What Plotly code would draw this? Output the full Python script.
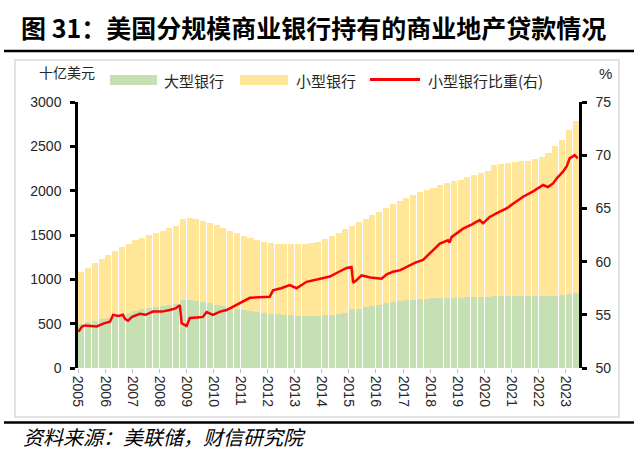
import plotly.graph_objects as go
import pandas as pd

# ---------------- data ----------------
quarters = [str(p) for p in pd.period_range("2005Q1", "2023Q2", freq="Q")]

# 大型银行 (bn USD), quarterly
large_banks = [
    495, 515, 535, 550,
    565, 585, 605, 625,
    645, 660, 675, 690,
    700, 710, 720, 770,
    770, 760, 745, 730,
    715, 700, 685, 670,
    655, 640, 630, 620,
    610, 605, 600, 595,
    592, 590, 590, 592,
    598, 603, 610, 620,
    660, 670, 685, 700,
    715, 730, 745, 755,
    765, 772, 778, 782,
    786, 790, 792, 794,
    795, 796, 797, 798,
    800, 812, 815, 815,
    812, 810, 808, 808,
    808, 810, 815, 825,
    840, 850,
]

# 小型银行 (bn USD), quarterly
small_banks = [
    585, 615, 645, 675,
    705, 730, 755, 775,
    795, 810, 825, 835,
    850, 865, 880, 915,
    925, 920, 915, 910,
    895, 880, 865, 850,
    835, 825, 810, 800,
    795, 795, 798, 803,
    806, 810, 815, 828,
    857, 887, 915, 945,
    945, 975, 1000, 1025,
    1050, 1075, 1100, 1125,
    1150, 1178, 1202, 1228,
    1249, 1270, 1293, 1311,
    1330, 1354, 1378, 1402,
    1425, 1473, 1485, 1495,
    1508, 1520, 1532, 1547,
    1572, 1620, 1685, 1745,
    1840, 1940,
]

# 小型银行比重 (%), right axis
ratio_dates = [
    "2005-01-05", "2005-02-25", "2005-04-05", "2005-07-01", "2005-09-10", "2005-12-15",
    "2006-03-08", "2006-04-20", "2006-07-01", "2006-08-28", "2006-10-01", "2006-11-06",
    "2007-01-01", "2007-04-16", "2007-07-01", "2007-10-08", "2008-02-06", "2008-05-22",
    "2008-08-07", "2008-10-05", "2008-10-30", "2009-01-04", "2009-02-17", "2009-05-27",
    "2009-08-11", "2009-10-01", "2009-12-24", "2010-04-01", "2010-06-28", "2010-10-01",
    "2010-12-24", "2011-05-08", "2011-09-13", "2012-01-30", "2012-03-14", "2012-07-01",
    "2012-10-27", "2013-01-26", "2013-06-10", "2013-11-25", "2014-04-20", "2014-08-08",
    "2014-12-02", "2015-02-06", "2015-02-28", "2015-04-20", "2015-06-21", "2015-10-20",
    "2016-03-17", "2016-05-26", "2016-08-19", "2016-11-25", "2017-02-17", "2017-06-14",
    "2017-09-27", "2018-01-19", "2018-05-12", "2018-08-29", "2018-09-20", "2018-10-16",
    "2019-03-21", "2019-07-19", "2019-10-30", "2019-12-16", "2020-03-14", "2020-07-01",
    "2020-10-27", "2021-02-06", "2021-06-07", "2021-10-20", "2022-03-04", "2022-05-08",
    "2022-07-16", "2022-09-13", "2022-11-28", "2023-01-19", "2023-02-24", "2023-05-04",
    "2023-06-13",
]
ratio_values = [
    53.4, 53.9, 54.0, 53.95, 53.9, 54.2,
    54.35, 55.0, 54.9, 55.0, 54.6, 54.45,
    54.8, 55.1, 55.0, 55.3, 55.3, 55.45,
    55.6, 55.9, 54.2, 53.95, 54.7, 54.75,
    54.8, 55.25, 55.0, 55.3, 55.45, 55.8,
    56.1, 56.6, 56.65, 56.7, 57.3, 57.5,
    57.8, 57.5, 58.1, 58.4, 58.6, 59.0,
    59.4, 59.5, 58.0, 58.3, 58.7, 58.5,
    58.4, 58.8, 59.05, 59.2, 59.5, 59.9,
    60.15, 60.9, 61.7, 62.0, 61.8, 62.3,
    63.1, 63.5, 63.9, 63.6, 64.2, 64.6,
    65.0, 65.5, 66.1, 66.6, 67.2, 67.0,
    67.35, 67.9, 68.45, 69.0, 69.7, 70.0,
    69.7,
]

year_ticks = [str(y) for y in range(2005, 2024)]

# ---------------- figure ----------------
W, H = 640, 451
L, R, T, B = 78, 579, 102, 368  # plot area in pixels


def px(x):
    return (x - L) / (R - L)


def py(y):
    return (B - y) / (B - T)


bar_x = [pd.Period(q, freq="Q").start_time + pd.Timedelta(days=45) for q in quarters]
bar_w = 0.9 * 91.3 * 86400000

GREEN = "#C6E0B4"
YELLOW = "#FFE699"
RED = "#FF0000"
TXT = "#262626"
CJK = "Noto Sans CJK SC"
NUM = "Liberation Sans"

fig = go.Figure()
fig.add_trace(go.Bar(x=bar_x, y=large_banks, name="大型银行", width=bar_w,
                     marker=dict(color=GREEN, line=dict(width=0))))
fig.add_trace(go.Bar(x=bar_x, y=small_banks, name="小型银行", width=bar_w,
                     marker=dict(color=YELLOW, line=dict(width=0))))
fig.add_trace(go.Scatter(x=pd.to_datetime(ratio_dates), y=ratio_values, yaxis="y2",
                         mode="lines", name="小型银行比重(右)",
                         line=dict(color=RED, width=2.5)))

axis_common = dict(showgrid=False, zeroline=False, showline=True, linecolor="black",
                   linewidth=2.5, ticks="outside", ticklen=5, tickwidth=2.5,
                   tickcolor="black", tickfont=dict(family=NUM, size=14, color=TXT),
                   ticklabelstandoff=6)

fig.update_layout(
    width=W, height=H,
    margin=dict(l=L, r=W - R, t=T, b=H - B),
    paper_bgcolor="white", plot_bgcolor="white",
    barmode="stack", showlegend=False,
    xaxis=dict(type="date", range=["2005-01-01", "2023-07-01"],
               tickvals=[f"{y}-01-01" for y in year_ticks], ticktext=year_ticks,
               tickangle=90, ticks="outside", ticklen=4, tickwidth=1,
               tickcolor="#BFBFBF", showline=False, showgrid=False, zeroline=False,
               tickfont=dict(family=NUM, size=14, color=TXT)),
    yaxis=dict(range=[0, 3000], dtick=500, **axis_common),
    yaxis2=dict(range=[50, 75], dtick=5, overlaying="y", side="right", **axis_common),
)

shapes = [
    # outer chart frame
    dict(type="rect", xref="paper", yref="paper", x0=px(15), x1=px(619), y0=py(60), y1=py(417),
         line=dict(color="#D9D9D9", width=1.5), fillcolor="rgba(0,0,0,0)", layer="below"),
    # title underline and source rule
    dict(type="line", xref="paper", yref="paper", x0=px(4), x1=px(634), y0=py(51), y1=py(51),
         line=dict(color="black", width=2.5)),
    dict(type="line", xref="paper", yref="paper", x0=px(4), x1=px(634), y0=py(422.5), y1=py(422.5),
         line=dict(color="black", width=2.5)),
    # legend swatches
    dict(type="rect", xref="paper", yref="paper", x0=px(110), x1=px(157), y0=py(75), y1=py(85),
         line=dict(width=0), fillcolor=GREEN),
    dict(type="rect", xref="paper", yref="paper", x0=px(240), x1=px(288), y0=py(75), y1=py(85),
         line=dict(width=0), fillcolor=YELLOW),
    dict(type="line", xref="paper", yref="paper", x0=px(370), x1=px(420), y0=py(79.5), y1=py(79.5),
         line=dict(color=RED, width=3)),
]

annotations = [
    dict(text="<b>图 31：美国分规模商业银行持有的商业地产贷款情况</b>", x=px(19), y=py(27),
         xanchor="left", yanchor="middle", font=dict(family=CJK, size=25, color="black")),
    dict(text="资料来源：美联储，财信研究院", x=px(21), y=py(436), xanchor="left", yanchor="middle",
         font=dict(family=CJK, size=20, color="black", style="italic")),
    dict(text="十亿美元", x=px(37), y=py(72), xanchor="left", yanchor="middle",
         font=dict(family=CJK, size=14, color=TXT)),
    dict(text="%", x=px(597), y=py(73), xanchor="left", yanchor="middle",
         font=dict(family=NUM, size=15, color=TXT)),
    dict(text="大型银行", x=px(162), y=py(80), xanchor="left", yanchor="middle",
         font=dict(family=CJK, size=15, color=TXT)),
    dict(text="小型银行", x=px(294), y=py(80), xanchor="left", yanchor="middle",
         font=dict(family=CJK, size=15, color=TXT)),
    dict(text="小型银行比重(右)", x=px(426), y=py(80), xanchor="left", yanchor="middle",
         font=dict(family=CJK, size=15, color=TXT)),
]
for a in annotations:
    a.update(xref="paper", yref="paper", showarrow=False)

fig.update_layout(shapes=shapes, annotations=annotations)
fig.write_html("out.html", config={"displayModeBar": False},
               post_script="document.body.style.margin='0px';")
